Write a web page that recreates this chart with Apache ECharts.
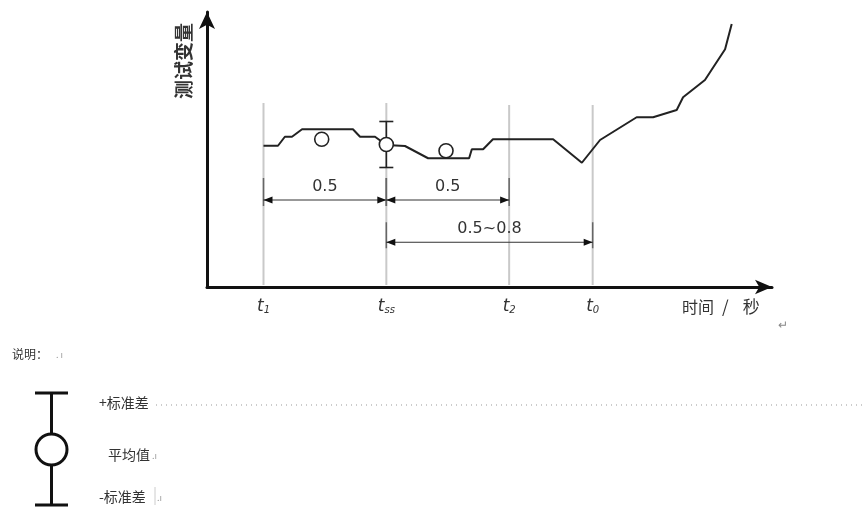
<!DOCTYPE html>
<html><head><meta charset="utf-8">
<script src="https://cdn.jsdelivr.net/npm/echarts@6/dist/echarts.min.js"></script>
<style>html,body{margin:0;padding:0;background:#fff}#c{width:866px;height:509px}</style>
</head><body><div id="c"></div>
<script>
// ---- data ----
const tickT = [0, 0.5, 1.0, 1.34];
const tickSub = ['1', 'ss', '2', '0'];
const curveT = [0, 0.059, 0.087, 0.116, 0.157, 0.364, 0.393, 0.454, 0.5, 0.576, 0.670, 0.837, 0.848, 0.894, 0.934, 1.179, 1.296, 1.370, 1.519, 1.586, 1.682, 1.708, 1.797, 1.879, 1.906];
const curveV = [56.5, 56.5, 60.1, 60.1, 63.1, 63.1, 60.1, 60.1, 56.8, 56.4, 51.5, 51.5, 55.1, 55.1, 59.1, 59.1, 49.7, 58.8, 67.9, 67.9, 70.8, 75.9, 82.8, 95.1, 105.2];
const meanT = [0.237, 0.5, 0.743];
const meanV = [59.1, 57.0, 54.5];
const errT = [0.5];
const errLow = [47.8];
const errHigh = [66.2];
const guideT = [0, 0.5, 1.0, 1.34];
const guideTop = [73.6, 73.6, 72.8, 72.8];
const dimStart = [0, 0.5, 0.5];
const dimEnd = [0.5, 1.0, 1.34];
const dimV = [34.8, 34.8, 17.9];
const dimLabel = ['0.5', '0.5', '0.5~0.8'];
const xNameParts = ['时间', '/', '秒'];
const yName = '测试变量';

const chart = echarts.init(document.getElementById('c'), null, {renderer: 'canvas'});
const numFont = '"DejaVu Sans", Verdana, sans-serif';
const cjk = '"Noto Sans CJK SC", sans-serif';

const option = {
  animation: false,
  backgroundColor: '#fff',
  grid: {left: 207, right: 94, top: 12, bottom: 222},
  xAxis: {
    type: 'value', min: -0.23, max: 2.07,
    axisLine: {show: true, onZero: false, symbol: ['none', 'arrow'], symbolSize: [11, 17], lineStyle: {color: '#111', width: 3}},
    axisTick: {show: false}, splitLine: {show: false},
    axisLabel: {
      show: true, customValues: tickT, margin: 11,
      formatter: function (v) {
        const i = tickT.indexOf(v);
        return '{t|t}{s|' + (i >= 0 ? tickSub[i] : '') + '}';
      },
      rich: {
        t: {fontFamily: numFont, fontStyle: 'italic', fontSize: 17, color: '#333'},
        s: {fontFamily: numFont, fontStyle: 'italic', fontSize: 10, color: '#333', padding: [7, 0, 0, 0]}
      }
    }
  },
  yAxis: {
    type: 'value', min: 0, max: 110,
    axisLine: {show: true, onZero: false, symbol: ['none', 'arrow'], symbolSize: [12, 17], lineStyle: {color: '#111', width: 3}},
    axisTick: {show: false}, splitLine: {show: false}, axisLabel: {show: false}
  },
  series: [
    {
      type: 'custom', z: 1, silent: true,
      data: guideT.map((t, i) => [t, guideTop[i]]),
      renderItem: function (params, api) {
        const a = api.coord([api.value(0), 0]);
        const b = api.coord([api.value(0), api.value(1)]);
        return {type: 'line', shape: {x1: a[0], y1: a[1] - 2, x2: b[0], y2: b[1]}, style: {stroke: '#c9c9c9', lineWidth: 2}};
      }
    },
    {
      type: 'custom', z: 2, silent: true,
      data: dimStart.map((s, i) => [s, dimEnd[i], dimV[i], i]),
      renderItem: function (params, api) {
        const p0 = api.coord([api.value(0), api.value(2)]);
        const p1 = api.coord([api.value(1), api.value(2)]);
        const y = p0[1], x0 = p0[0], x1 = p1[0];
        const al = 9, aw = 3.5;
        const idx = api.value(3);
        const up = idx === 2 ? 20 : 22;
        return {type: 'group', children: [
          {type: 'line', shape: {x1: x0, y1: y - up, x2: x0, y2: y + 6}, style: {stroke: '#666', lineWidth: 1.5}},
          {type: 'line', shape: {x1: x1, y1: y - up, x2: x1, y2: y + 6}, style: {stroke: '#666', lineWidth: 1.5}},
          {type: 'line', shape: {x1: x0, y1: y, x2: x1, y2: y}, style: {stroke: '#333', lineWidth: 1}},
          {type: 'polygon', shape: {points: [[x0, y], [x0 + al, y - aw], [x0 + al, y + aw]]}, style: {fill: '#111'}},
          {type: 'polygon', shape: {points: [[x1, y], [x1 - al, y - aw], [x1 - al, y + aw]]}, style: {fill: '#111'}},
          {type: 'text', x: (x0 + x1) / 2, y: y - 13, style: {text: dimLabel[idx], fontFamily: numFont, fontSize: 16, fill: '#333', align: 'center', verticalAlign: 'middle'}}
        ]};
      }
    },
    {
      type: 'line', z: 3, silent: true, symbol: 'none',
      data: curveT.map((t, i) => [t, curveV[i]]),
      lineStyle: {color: '#222', width: 2}
    },
    {
      type: 'custom', z: 4, silent: true,
      data: errT.map((t, i) => [t, errLow[i], errHigh[i]]),
      renderItem: function (params, api) {
        const a = api.coord([api.value(0), api.value(1)]);
        const b = api.coord([api.value(0), api.value(2)]);
        const c = 7;
        const st = {stroke: '#222', lineWidth: 1.6};
        return {type: 'group', children: [
          {type: 'line', shape: {x1: a[0], y1: a[1], x2: b[0], y2: b[1]}, style: st},
          {type: 'line', shape: {x1: a[0] - c, y1: a[1], x2: a[0] + c, y2: a[1]}, style: st},
          {type: 'line', shape: {x1: b[0] - c, y1: b[1], x2: b[0] + c, y2: b[1]}, style: st}
        ]};
      }
    },
    {
      type: 'scatter', z: 5, silent: true, symbol: 'circle', symbolSize: 14,
      data: meanT.map((t, i) => [t, meanV[i]]),
      itemStyle: {color: '#fff', borderColor: '#222', borderWidth: 1.6, opacity: 1}
    }
  ],
  graphic: [
    {type: 'text', x: 682, y: 307, style: {
      text: '{a|' + xNameParts[0] + '}{b|' + xNameParts[1] + '}{c|' + xNameParts[2] + '}',
      verticalAlign: 'middle',
      rich: {
        a: {fontFamily: cjk, fontSize: 16, fill: '#333'},
        b: {fontFamily: cjk, fontSize: 17, fill: '#333', padding: [0, 0, 0, 8]},
        c: {fontFamily: cjk, fontSize: 17, fill: '#333', padding: [0, 0, 0, 14]}
      }
    }},
    {type: 'text', x: 778, y: 324, style: {text: '↵', fontFamily: cjk, fontSize: 12, fill: '#888', verticalAlign: 'middle'}},
    {type: 'text', x: 184, y: 61, rotation: Math.PI / 2, style: {text: yName, fontFamily: cjk, fontSize: 19, fontWeight: 'bold', fill: '#333', align: 'center', verticalAlign: 'middle'}},
    {type: 'text', x: 12, y: 354, style: {text: '说明：', fontFamily: cjk, fontSize: 12, fill: '#333', verticalAlign: 'middle'}},
    {type: 'text', x: 56, y: 355, style: {text: '. ı', fontFamily: cjk, fontSize: 9, fill: '#999', verticalAlign: 'middle'}},
    {type: 'line', shape: {x1: 51.5, y1: 393, x2: 51.5, y2: 505}, style: {stroke: '#111', lineWidth: 3}},
    {type: 'line', shape: {x1: 35, y1: 393, x2: 68, y2: 393}, style: {stroke: '#111', lineWidth: 3}},
    {type: 'line', shape: {x1: 35, y1: 505, x2: 68, y2: 505}, style: {stroke: '#111', lineWidth: 3}},
    {type: 'circle', shape: {cx: 51.5, cy: 449.5, r: 15.5}, style: {fill: '#fff', stroke: '#111', lineWidth: 3}},
    {type: 'text', x: 99, y: 403, style: {text: '+标准差', fontFamily: cjk, fontSize: 14, fill: '#333', verticalAlign: 'middle'}},
    {type: 'line', shape: {x1: 156, y1: 405, x2: 866, y2: 405}, style: {stroke: '#999', lineWidth: 1, lineDash: [1, 4]}},
    {type: 'text', x: 108, y: 455, style: {text: '平均值', fontFamily: cjk, fontSize: 14, fill: '#333', verticalAlign: 'middle'}},
    {type: 'text', x: 152, y: 456, style: {text: '.ı', fontFamily: cjk, fontSize: 9, fill: '#999', verticalAlign: 'middle'}},
    {type: 'text', x: 99, y: 497, style: {text: '-标准差', fontFamily: cjk, fontSize: 14, fill: '#333', verticalAlign: 'middle'}},
    {type: 'line', shape: {x1: 155, y1: 487, x2: 155, y2: 505}, style: {stroke: '#ccc', lineWidth: 1}},
    {type: 'text', x: 157, y: 498, style: {text: '.ı', fontFamily: cjk, fontSize: 9, fill: '#999', verticalAlign: 'middle'}}
  ]
};
chart.setOption(option);
</script></body></html>
